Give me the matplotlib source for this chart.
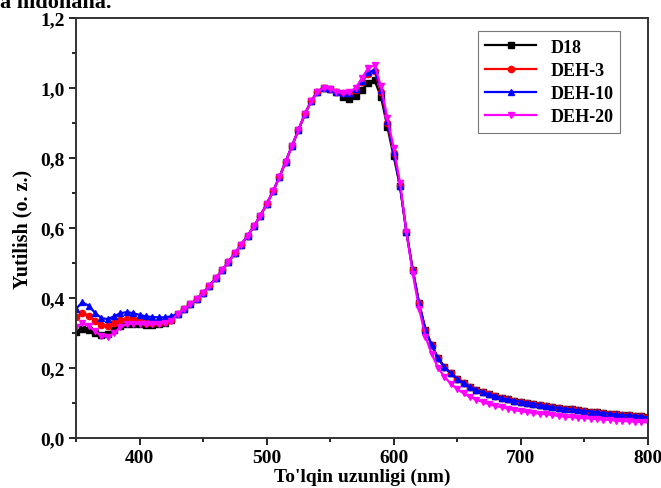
import matplotlib
matplotlib.use("Agg")
import matplotlib.pyplot as plt
from matplotlib.ticker import MultipleLocator, FuncFormatter

plt.rcParams['font.family'] = ['Liberation Serif', 'DejaVu Serif']
plt.rcParams['font.weight'] = 'bold'

# wavelength grid, nm (350 ... 800 every 5 nm)
wavelength = list(range(350, 805, 5))

# 350-425 nm (UV shoulder)
d18_uv = [0.303, 0.311, 0.308, 0.300, 0.295, 0.298, 0.310, 0.320, 0.325, 0.326, 0.325, 0.323, 0.323, 0.325, 0.330, 0.337]
deh3_uv = [0.345, 0.358, 0.350, 0.335, 0.322, 0.320, 0.328, 0.338, 0.341, 0.340, 0.336, 0.330, 0.328, 0.330, 0.333, 0.338]
deh10_uv = [0.370, 0.388, 0.378, 0.358, 0.343, 0.340, 0.348, 0.357, 0.360, 0.357, 0.352, 0.348, 0.346, 0.345, 0.345, 0.348]
deh20_uv = [0.317, 0.328, 0.320, 0.305, 0.292, 0.290, 0.300, 0.318, 0.326, 0.327, 0.326, 0.325, 0.325, 0.327, 0.330, 0.336]

# 430-555 nm (rising edge, nearly identical for all films)
rise = [0.355, 0.368, 0.382, 0.397, 0.415, 0.435, 0.457, 0.480, 0.504, 0.528, 0.553, 0.578, 0.605,
        0.635, 0.668, 0.705, 0.745, 0.790, 0.835, 0.880, 0.925, 0.962, 0.990, 1.000, 0.998, 0.990]

# 560-600 nm (0-0 peak)
d18_pk = [0.975, 0.970, 0.978, 0.995, 1.015, 1.022, 0.975, 0.890, 0.805]
deh3_pk = [0.985, 0.985, 0.995, 1.018, 1.040, 1.048, 0.990, 0.900, 0.815]
deh10_pk = [0.985, 0.986, 0.997, 1.020, 1.045, 1.052, 0.995, 0.905, 0.818]
deh20_pk = [0.985, 0.988, 1.000, 1.028, 1.058, 1.065, 1.005, 0.915, 0.830]

# 605-800 nm (absorption edge and tail)
tail = [0.720, 0.590, 0.480, 0.385, 0.310, 0.265, 0.228, 0.203, 0.185, 0.170, 0.157, 0.147, 0.138, 0.131,
        0.125, 0.120, 0.115, 0.111, 0.107, 0.104, 0.101, 0.098, 0.095, 0.092, 0.089, 0.086, 0.084, 0.082,
        0.080, 0.078, 0.076, 0.074, 0.072, 0.070, 0.068, 0.066, 0.065, 0.064, 0.062, 0.060]
deh20_tail = [0.730, 0.590, 0.470, 0.370, 0.290, 0.240, 0.200, 0.175, 0.155, 0.140, 0.128, 0.118, 0.110, 0.103,
              0.097, 0.092, 0.088, 0.084, 0.080, 0.077, 0.074, 0.072, 0.070, 0.068, 0.066, 0.063, 0.061, 0.060,
              0.058, 0.057, 0.056, 0.054, 0.053, 0.052, 0.050, 0.049, 0.048, 0.047, 0.046, 0.045]

series = [
    ('D18', d18_uv + rise + d18_pk + tail, 'black', 's'),
    ('DEH-3', deh3_uv + rise + deh3_pk + tail, 'red', 'o'),
    ('DEH-10', deh10_uv + rise + deh10_pk + tail, 'blue', '^'),
    ('DEH-20', deh20_uv + rise + deh20_pk + deh20_tail, 'magenta', 'v'),
]

fig = plt.figure(figsize=(6.61, 4.89), dpi=100)
ax = fig.add_axes([0.115, 0.102, 0.865, 0.859])

for name, vals, col, mk in series:
    ax.plot(wavelength, vals, color=col, marker=mk, markersize=4.5, linewidth=1.6, label=name)

ax.set_xlim(350, 800)
ax.set_ylim(0, 1.2)
ax.xaxis.set_major_locator(MultipleLocator(100))
ax.xaxis.set_minor_locator(MultipleLocator(50))
ax.yaxis.set_major_locator(MultipleLocator(0.2))
ax.yaxis.set_minor_locator(MultipleLocator(0.1))
ax.yaxis.set_major_formatter(FuncFormatter(lambda v, p: f'{v:.1f}'.replace('.', ',')))
ax.tick_params(which='major', direction='out', length=5, width=1.2, labelsize=14, pad=3)
ax.tick_params(which='minor', direction='out', length=3, width=1.2)
for s in ax.spines.values():
    s.set_linewidth(1.4)
    s.set_color('#333333')

ax.set_xlabel("To'lqin uzunligi (nm)", fontsize=14, fontweight='bold', labelpad=1)
ax.set_ylabel('Yutilish (o. z.)', fontsize=14.5, fontweight='bold', labelpad=6)

leg = ax.legend(loc='upper right', bbox_to_anchor=(0.968, 0.99), frameon=True,
                fancybox=False, edgecolor='#555555', handlelength=2.8, borderpad=0.4,
                labelspacing=0.35, prop={'weight': 'bold', 'size': 13})
leg.get_frame().set_linewidth(0.8)

# cut-off caption text from the page above the figure
fig.text(0.0, 0.983, 'a nidonana.', fontsize=16, fontweight='bold', ha='left', va='baseline')

fig.savefig('out.png', dpi=100)
